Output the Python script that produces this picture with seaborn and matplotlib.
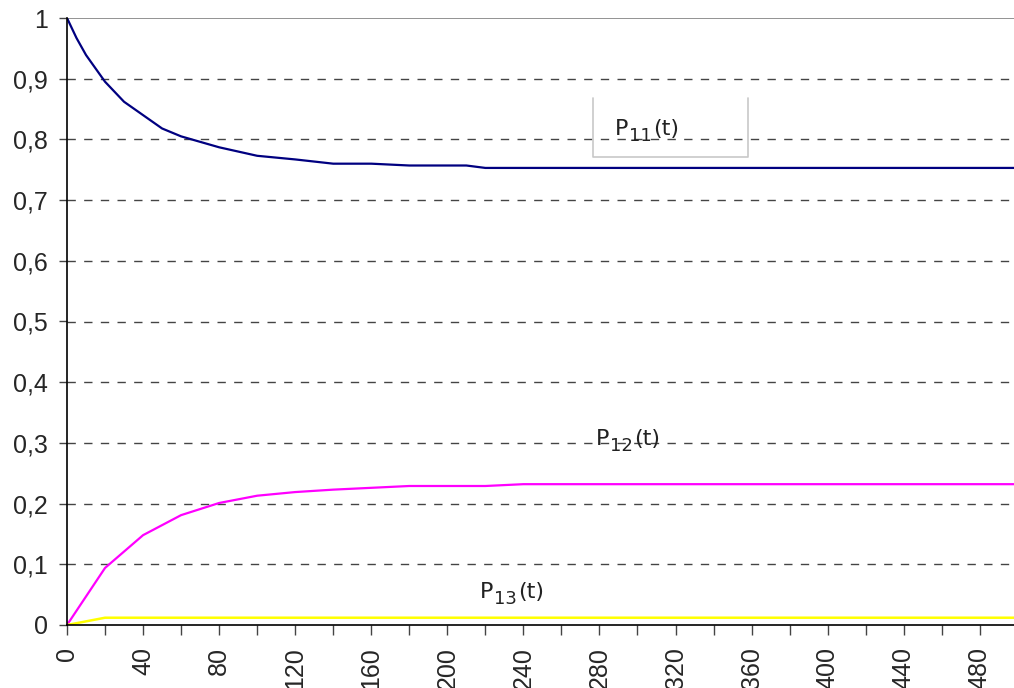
import numpy as np
import pandas as pd
import matplotlib
matplotlib.use("Agg")
import matplotlib.pyplot as plt
import seaborn as sns
from matplotlib.ticker import FuncFormatter, MultipleLocator

sns.set_style("white")
plt.rcParams['font.family'] = ['Liberation Sans', 'DejaVu Sans']

# values
t_p11 = [0, 5, 10, 20, 30, 40, 50, 60, 80, 100, 120, 140, 160, 180, 200, 210, 220,
         240, 280, 320, 360, 400, 440, 480, 500]
p11 = [1.0, 0.967, 0.939, 0.895, 0.862, 0.84, 0.818, 0.805, 0.787, 0.773, 0.767, 0.76,
       0.76, 0.757, 0.757, 0.757, 0.753, 0.753, 0.753, 0.753, 0.753, 0.753, 0.753, 0.753, 0.753]

t_p12 = [0, 20, 40, 60, 80, 100, 120, 140, 160, 180, 200, 220, 240, 280, 320, 360, 400,
         440, 480, 500]
p12 = [0.0, 0.094, 0.148, 0.181, 0.201, 0.213, 0.219, 0.223, 0.226, 0.229, 0.229, 0.229,
       0.232, 0.232, 0.232, 0.232, 0.232, 0.232, 0.232, 0.232]

t_p13 = [0, 20, 40, 80, 120, 160, 200, 240, 280, 320, 360, 400, 440, 480, 500]
p13 = [0.0, 0.012, 0.012, 0.012, 0.012, 0.012, 0.012, 0.012, 0.012, 0.012, 0.012, 0.012,
       0.012, 0.012, 0.012]

labels = ['11', '12', '13']
label_pos = [(288, 0.807), (278, 0.2965), (217, 0.0445)]

fig = plt.figure(figsize=(10.14, 6.88), dpi=100)
ax = fig.add_axes([67 / 1014, 1 - 625 / 688, 1 - 67 / 1014, (625 - 18) / 688])

# grid
for yv in np.arange(0.1, 1.0, 0.1):
    ax.axhline(yv, color='#444444', lw=1, ls=(0, (6, 6)), zorder=0)
ax.axhline(1.0, color='#808080', lw=1.2, zorder=0)

sns.lineplot(x=t_p11, y=p11, color='#000080', lw=1.6, ax=ax)
sns.lineplot(x=t_p12, y=p12, color='#FF00FF', lw=1.6, ax=ax)
sns.lineplot(x=t_p13, y=p13, color='#FFFF00', lw=1.8, ax=ax)

ax.set_xlim(0, 498)
ax.set_ylim(0, 1)
ax.yaxis.set_major_locator(MultipleLocator(0.1))
ax.xaxis.set_major_locator(MultipleLocator(40))
ax.xaxis.set_minor_locator(MultipleLocator(20))

def comma(v, pos):
    s = ('%.1f' % v).replace('.', ',')
    if s.endswith(',0'):
        s = s[:-2]
    return s

ax.yaxis.set_major_formatter(FuncFormatter(comma))
ax.tick_params(axis='y', which='major', direction='out', length=6, width=1,
               color='#444444', labelsize=18, pad=8, left=True)
ax.tick_params(axis='x', which='both', direction='out', length=7, width=1,
               color='#444444', bottom=True)
ax.tick_params(axis='x', which='major', labelsize=18, labelrotation=90, pad=9)

for s in ['top', 'right']:
    ax.spines[s].set_visible(False)
for s in ['left', 'bottom']:
    ax.spines[s].set_color('black')
    ax.spines[s].set_linewidth(1.2)

# series labels: P, subscript, (t)
lab_font = ['DejaVu Sans']
for sub, (lx, ly) in zip(labels, label_pos):
    t1 = ax.text(lx, ly, 'P', fontsize=16, color='#222222', va='baseline', family=lab_font)
    t2 = ax.annotate(sub, xy=(1, 0), xycoords=t1, xytext=(1, -4),
                     textcoords='offset points', fontsize=13, color='#222222',
                     va='bottom', ha='left', family=lab_font)
    ax.annotate('(t)', xy=(1, 0), xycoords=(t2, t1), xytext=(0.5, 0),
                textcoords='offset points', fontsize=16, color='#222222',
                va='bottom', ha='left', family=lab_font)

# box around first label (left, bottom, right edges)
bx0, bx1 = (593 - 67) / 947, (748 - 67) / 947
by0, by1 = (625 - 157) / 607, (625 - 98) / 607
ax.plot([bx0, bx0, bx1, bx1], [by1, by0, by0, by1], transform=ax.transAxes,
        color='#c8c8c8', lw=1.2, clip_on=False)

fig.savefig('out.png', dpi=100)
